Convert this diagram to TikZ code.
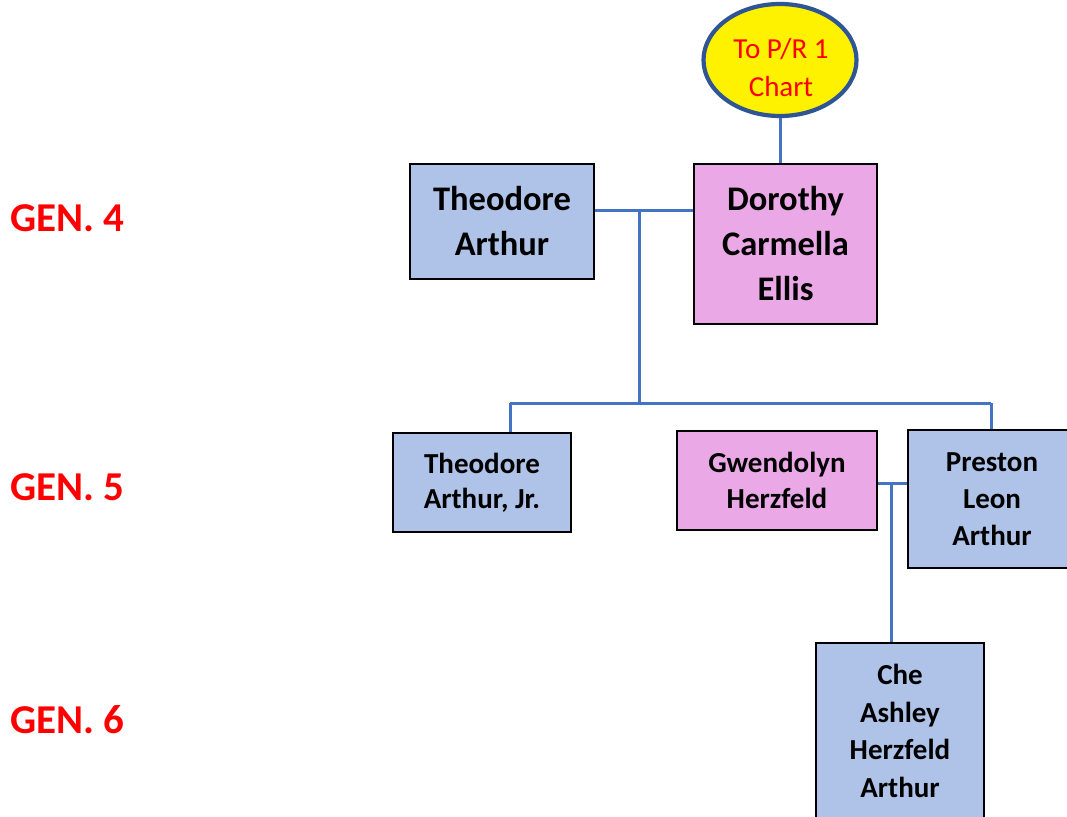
\documentclass[tikz,border=0pt]{standalone}
\usepackage{fontspec}
\setmainfont{Carlito}
\usetikzlibrary{shapes.geometric}
\definecolor{boxblue}{HTML}{AEC3E7}
\definecolor{boxpink}{HTML}{EAA8E6}
\definecolor{linkblue}{HTML}{4472C4}
\definecolor{ovalrim}{HTML}{2F5597}
\tikzset{
  person/.style={draw=black, line width=2.6pt, align=center, inner sep=0pt,
    font=\bfseries\fontsize{29}{37}\selectfont},
  elder/.style={person, font=\bfseries\fontsize{34.5}{45}\selectfont},
  male/.style={fill=boxblue},
  female/.style={fill=boxpink},
  link/.style={draw=linkblue, line width=3pt},
  genlabel/.style={anchor=west, inner sep=0pt, text=red,
    font=\bfseries\fontsize{41}{48}\selectfont},
  chartoval/.style={ellipse, draw=ovalrim, line width=4.2pt, fill=yellow,
    minimum width=153pt, minimum height=112pt, inner sep=0pt},
}
\begin{document}
\begin{tikzpicture}[x=1pt, y=-1pt]
\clip (0,0) rectangle (1067,816);
\fill[white] (0,0) rectangle (1067,816);

% generation labels
\node[genlabel] (g4) at (10,218) {GEN. 4};
\node[genlabel] (g5) at (10,487) {GEN. 5};
\node[genlabel] (g6) at (10,720) {GEN. 6};

% link to the other chart
\node[chartoval] (chart) at (780,60) {};
\node[align=center, text=red, inner sep=0pt,
      font=\fontsize{29}{38}\selectfont] (chartlbl) at (781,68) {To P/R 1\\Chart};

% generation 4
\node[elder, male, minimum width=184pt, minimum height=115pt] (ta) at (502,221.5) {Theodore\\Arthur};
\node[elder, female, minimum width=183pt, minimum height=160pt] (dce) at (785.5,244) {Dorothy\\Carmella\\Ellis};

% generation 5
\node[person, male, minimum width=178pt, minimum height=99pt, font=\bfseries\fontsize{29}{35}\selectfont] (tj) at (482,482.5) {Theodore\\Arthur, Jr.};
\node[person, female, minimum width=200pt, minimum height=99pt, font=\bfseries\fontsize{29}{36}\selectfont] (gh) at (777,480.5) {Gwendolyn\\Herzfeld};
\node[person, male, minimum width=168pt, minimum height=138pt] (pla) at (992,499) {Preston\\Leon\\Arthur};

% generation 6
\node[person, male, minimum width=168pt, minimum height=176pt, font=\bfseries\fontsize{29}{37.5}\selectfont] (che) at (900,731) {Che\\Ashley\\Herzfeld\\Arthur};

% connectors
\coordinate (m1) at (639,210);
\coordinate (s1) at (639,403);
\coordinate (sl) at (510,403);
\coordinate (sr) at (991,403);
\coordinate (m2) at (891,483);

\draw[link] (chart.south) -- (chart.south |- dce.north);
\draw[link] (ta.east |- m1) -- (dce.west |- m1);
\draw[link] (m1) -- (s1);
\draw[link] (sl) -- (sr);
\draw[link] (sl) -- (sl |- tj.north);
\draw[link] (sr) -- (sr |- pla.north);
\draw[link] (gh.east |- m2) -- (pla.west |- m2);
\draw[link] (m2) -- (m2 |- che.north);
\end{tikzpicture}
\end{document}
